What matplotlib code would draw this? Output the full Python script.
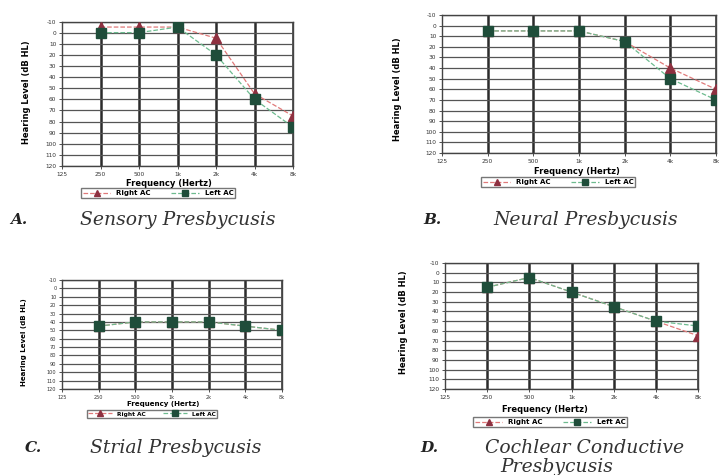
import matplotlib
matplotlib.use("Agg")
import matplotlib.pyplot as plt

# audiogram frequencies (Hz) and their tick labels
freqs = [125, 250, 500, 1000, 2000, 4000, 8000]
freq_labels = ['125', '250', '500', '1k', '2k', '4k', '8k']
test_freqs = [250, 500, 1000, 2000, 4000, 8000]
db_ticks = list(range(-10, 130, 10))

# hearing levels (dB HL)
sensory_right = [-5, -5, -5, 5, 55, 75]
sensory_left = [0, 0, -5, 20, 60, 85]
neural_right = [5, 5, 5, 15, 40, 60]
neural_left = [5, 5, 5, 15, 50, 70]
strial_right = [45, 40, 40, 40, 45, 50]
strial_left = [45, 40, 40, 40, 45, 50]
cochlear_right = [15, 5, 20, 35, 50, 65]
cochlear_left = [15, 5, 20, 35, 50, 55]

W, H = 723, 475
fig = plt.figure(figsize=(W / 100, H / 100), dpi=100)


def px_rect(left, right, top, bottom):
    return [left / W, 1 - bottom / H, (right - left) / W, (bottom - top) / H]


def draw_panel(rect, right, left, xlab_xy, ylab_xy, leg_xy, fs=1.0):
    ax = fig.add_axes(px_rect(*rect))
    ax.set_xscale('log', base=2)
    ax.set_xlim(125, 8000)
    ax.set_ylim(120, -10)
    ax.set_xticks(freqs)
    ax.set_xticklabels(freq_labels)
    ax.minorticks_off()
    ax.set_yticks(db_ticks)
    ax.set_yticklabels([str(v) for v in db_ticks])
    ax.tick_params(labelsize=4.2 * fs, length=2, width=0.6, colors='#333333', pad=2)
    ax.grid(axis='y', color='#555555', linewidth=0.9)
    for f in freqs[1:]:
        ax.axvline(f, color='#2b2b2b', linewidth=1.8, zorder=1)
    for s in ax.spines.values():
        s.set_color('#444444')
        s.set_linewidth(1.0)
    ax.plot(test_freqs, right, linestyle='--', color='#e07a7a', linewidth=0.9,
            marker='^', markersize=6.5, markerfacecolor='#8e3040',
            markeredgecolor='#8e3040', label='Right AC', zorder=3)
    ax.plot(test_freqs, left, linestyle='--', color='#6dbb8f', linewidth=0.9,
            marker='s', markersize=6.5, markerfacecolor='#1f4d3a',
            markeredgecolor='#1f4d3a', label='Left AC', zorder=4)
    fig.text(xlab_xy[0] / W, 1 - xlab_xy[1] / H, 'Frequency (Hertz)',
             ha='center', va='center', fontsize=6 * fs, fontweight='bold')
    fig.text(ylab_xy[0] / W, 1 - ylab_xy[1] / H, 'Hearing Level (dB HL)',
             ha='center', va='center', rotation=90, fontsize=6 * fs,
             fontweight='bold')
    fig.legend(handles=ax.get_lines()[-2:], loc='center',
               bbox_to_anchor=(leg_xy[0] / W, 1 - leg_xy[1] / H), ncol=2,
               prop={'weight': 'bold', 'size': 5 * fs}, frameon=True,
               fancybox=False, edgecolor='#555555', borderpad=0.25,
               handlelength=4, columnspacing=3, markerscale=0.7)
    return ax


draw_panel((62, 293, 21.5, 166), sensory_right, sensory_left,
           (169, 183), (27, 92), (158, 193))
draw_panel((442, 716, 15, 153), neural_right, neural_left,
           (577, 171), (397, 89), (558, 182))
draw_panel((62, 282, 280, 389), strial_right, strial_left,
           (163, 404), (24, 342), (152, 414), fs=0.85)
draw_panel((445, 698, 263, 389), cochlear_right, cochlear_left,
           (545, 409), (403, 322), (550, 422))

cap = dict(family='DejaVu Serif', style='italic', fontsize=13.5, va='center',
           color='#333333')
letter = dict(family='DejaVu Serif', style='italic', fontweight='bold',
              fontsize=11, va='center', color='#222222')
fig.text(10 / W, 1 - 220 / H, 'A.', **letter)
fig.text(80 / W, 1 - 220 / H, 'Sensory Presbycusis', **cap)
fig.text(423 / W, 1 - 220 / H, 'B.', **letter)
fig.text(493 / W, 1 - 220 / H, 'Neural Presbycusis', **cap)
fig.text(25 / W, 1 - 448 / H, 'C.', **letter)
fig.text(90 / W, 1 - 448 / H, 'Strial Presbycusis', **cap)
fig.text(420 / W, 1 - 448 / H, 'D.', **letter)
fig.text(485 / W, 1 - 448 / H, 'Cochlear Conductive', **cap)
fig.text(557 / W, 1 - 467 / H, 'Presbycusis', ha='center', **cap)

fig.savefig('out.png', dpi=100)
